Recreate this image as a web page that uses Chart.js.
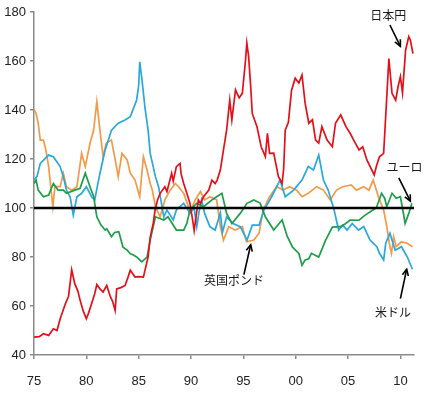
<!DOCTYPE html>
<html>
<head>
<meta charset="utf-8">
<script src="https://cdn.jsdelivr.net/npm/chart.js@4/dist/chart.umd.min.js"></script>
<style>
html,body{margin:0;padding:0;background:#fff;}
canvas{display:block;}
</style>
</head>
<body>
<canvas id="c" width="424" height="397"></canvas>
<script>
// ---- data (index, reference level = 100) ----
const tickYears  = [1975,1980,1985,1990,1995,2000,2005,2010];
const tickLabels = ['75','80','85','90','95','00','05','10'];
const yTicks = [40,60,80,100,120,140,160,180];

const seriesNames = ['日本円','ユーロ','米ドル','英国ポンド'];

const yenYears = [1975.0,1975.5,1975.9,1976.4,1976.85,1977.2,1977.5,1978.0,1978.3,1978.6,1978.9,1979.2,1979.4,1979.7,1980.0,1980.2,1980.5,1980.8,1981.0,1981.3,1981.6,1981.95,1982.3,1982.5,1982.75,1982.9,1983.3,1983.7,1984.0,1984.2,1984.65,1985.0,1985.45,1985.9,1986.1,1986.4,1986.57,1986.8,1987.05,1987.5,1987.7,1988.15,1988.3,1988.6,1988.95,1989.05,1989.3,1989.6,1989.9,1990.2,1990.3,1990.7,1990.9,1991.2,1991.7,1992.0,1992.3,1992.5,1992.8,1993.1,1993.4,1993.7,1993.9,1994.25,1994.6,1994.9,1995.2,1995.33,1995.5,1995.7,1995.85,1996.3,1996.7,1997.1,1997.3,1997.5,1997.9,1998.35,1998.7,1998.85,1999.0,1999.3,1999.6,1999.95,2000.3,2000.6,2000.9,2001.25,2001.6,2001.9,2002.2,2002.5,2003.0,2003.5,2003.8,2004.3,2004.8,2005.2,2005.5,2006.05,2006.4,2006.8,2007.1,2007.5,2007.7,2008.0,2008.4,2008.7,2008.9,2009.2,2009.55,2009.8,2010.0,2010.2,2010.5,2010.8,2010.95,2011.2];
const yenValues = [47.3,47.5,48.7,48.0,50.7,50.0,54.8,60.9,64.0,74.8,69.0,66.0,62.4,58.0,54.8,57.0,60.9,65.0,68.8,67.0,65.7,68.4,63.7,62.0,58.2,67.0,67.5,68.4,72.0,74.6,71.8,72.0,71.8,80.0,88.0,94.0,99.2,103.3,106.0,108.7,106.7,114.2,111.0,116.9,118.2,114.0,110.0,106.0,101.9,93.7,90.8,103.3,101.9,104.6,107.3,111.4,110.0,111.4,115.5,123.7,131.8,144.0,135.9,148.2,145.0,146.8,160.0,167.3,162.0,149.5,138.6,133.2,125.0,121.0,130.5,122.3,122.4,112.8,110.0,116.0,131.8,135.0,148.0,153.0,151.0,154.3,142.8,134.6,136.0,127.7,126.5,133.2,127.7,125.0,134.6,138.0,133.2,130.5,128.0,123.7,125.0,119.6,117.0,113.5,116.9,120.9,122.3,145.4,161.0,146.8,144.0,150.0,153.6,147.0,164.5,170.0,168.6,163.0];

const euroYears = [1975.0,1975.2,1975.4,1975.9,1976.4,1976.85,1977.3,1977.8,1978.1,1978.9,1979.4,1979.9,1980.35,1980.7,1981.0,1981.4,1981.8,1981.95,1982.4,1982.7,1983.1,1983.5,1983.9,1984.2,1984.5,1984.8,1985.1,1985.3,1985.8,1986.1,1986.6,1987.4,1987.8,1988.6,1989.3,1989.6,1989.9,1990.55,1991.2,1992.0,1992.45,1992.95,1993.4,1993.9,1994.7,1995.35,1996.0,1996.6,1997.1,1997.9,1998.4,1998.7,1999.2,1999.7,2000.3,2000.6,2000.9,2001.25,2001.5,2002.2,2002.85,2003.5,2004.25,2004.75,2005.2,2006.05,2006.6,2007.3,2007.7,2008.2,2008.5,2008.7,2009.2,2009.6,2010.0,2010.2,2010.45,2010.8,2011.1];
const euroValues = [110.0,111.4,107.3,104.6,105.3,110.0,107.3,107.3,106.0,107.3,108.0,114.2,108.7,104.6,96.4,93.0,91.0,91.5,88.3,90.0,90.3,84.0,82.8,81.3,80.8,80.0,78.8,78.0,80.0,86.9,96.4,95.1,96.4,91.0,91.0,93.7,99.2,101.9,100.5,103.3,104.6,106.0,97.8,93.7,97.8,101.9,103.3,102.0,96.4,91.0,93.6,95.1,88.3,84.0,81.5,76.6,78.8,79.3,81.5,80.0,86.8,92.2,92.4,93.6,95.1,95.0,97.0,99.0,100.0,106.0,104.0,100.5,106.0,104.0,104.6,100.0,93.7,97.8,101.9];

const usdYears = [1975.0,1975.3,1975.6,1976.4,1976.85,1977.5,1977.8,1978.1,1978.45,1978.75,1979.1,1979.55,1980.0,1980.5,1980.8,1981.3,1981.8,1982.4,1983.05,1983.7,1984.2,1984.8,1985.0,1985.1,1985.3,1985.6,1985.9,1986.1,1986.6,1986.9,1987.4,1987.7,1988.3,1988.6,1989.3,1989.9,1990.3,1990.55,1990.8,1991.0,1991.3,1991.8,1992.3,1992.6,1992.8,1993.0,1993.4,1994.0,1994.7,1995.35,1995.85,1996.5,1996.95,1997.7,1998.5,1999.0,1999.8,2000.6,2001.2,2001.7,2002.2,2002.65,2003.1,2003.65,2004.1,2004.5,2004.9,2005.4,2006.0,2006.5,2007.1,2007.75,2008.0,2008.4,2008.6,2009.0,2009.5,2010.1,2010.65,2011.15];
const usdValues = [111.4,113.0,118.2,121.6,120.9,116.9,112.8,107.3,104.6,97.1,104.6,106.0,108.7,104.6,103.3,114.2,123.7,131.8,134.6,135.9,137.3,144.0,150.0,159.7,152.9,141.0,131.8,122.3,112.8,108.7,96.4,99.2,95.1,99.2,101.9,97.8,100.0,92.4,99.2,103.3,97.8,92.4,91.0,95.1,98.0,90.0,96.4,93.7,92.4,86.9,93.0,93.0,99.0,104.6,111.4,104.6,107.3,111.4,116.9,115.5,121.6,111.4,107.3,99.5,91.0,93.0,91.0,93.7,91.0,92.4,86.9,84.2,81.5,78.8,85.6,89.7,82.8,84.2,80.1,75.0];

const gbpYears = [1975.0,1975.2,1975.4,1975.6,1975.9,1976.1,1976.4,1976.6,1976.8,1977.0,1977.5,1977.8,1978.1,1978.6,1979.1,1979.55,1979.9,1980.35,1980.7,1981.0,1981.3,1981.6,1981.9,1982.4,1982.7,1983.05,1983.4,1983.9,1984.2,1984.65,1985.1,1985.45,1985.8,1986.1,1986.3,1986.6,1987.05,1987.5,1988.0,1988.5,1988.8,1989.3,1989.75,1990.0,1990.4,1990.9,1991.3,1991.8,1992.45,1992.8,1993.1,1993.6,1994.2,1994.9,1995.3,1996.0,1996.5,1996.9,1997.5,1998.2,1998.8,1999.4,2000.1,2000.6,2001.2,2002.0,2002.65,2003.3,2003.9,2004.5,2005.3,2005.8,2006.5,2007.0,2007.4,2007.9,2008.4,2008.7,2009.0,2009.15,2009.35,2009.6,2010.1,2010.65,2011.15];
const gbpValues = [140.0,138.6,134.6,127.7,127.7,124.4,116.9,108.7,100.5,108.7,108.7,114.2,108.7,107.3,108.7,122.3,116.9,126.4,131.8,143.4,131.8,120.9,126.4,127.7,121.0,112.8,122.3,119.6,114.2,111.4,104.6,120.9,115.5,110.0,107.3,100.5,96.4,103.3,107.3,110.0,108.7,106.0,100.5,99.2,103.3,106.7,103.3,104.6,103.3,92.4,86.9,92.4,91.0,92.4,86.2,86.9,89.7,99.2,104.6,108.7,107.3,108.7,107.3,104.6,106.0,108.7,107.3,103.3,107.3,108.7,109.4,107.3,108.7,107.3,111.4,104.6,99.2,92.4,84.2,81.5,88.3,84.2,86.2,85.6,84.2];

const refYears = [1975, 2011.3];
const refValues = [100, 100];

// annotation labels: text, label anchor (year,value), arrow from -> to (year,value)
const notes = [
  {text:'日本円',    at:[2008.85,178.8], from:[2009.0,174.7], to:[2010.0,166.0]},
  {text:'ユーロ',    at:[2010.4,116.5],  from:[2009.85,112.3], to:[2010.95,102.8]},
  {text:'英国ポンド', at:[1994.1,70.6],   from:[1995.05,72.8], to:[1995.7,85.0]},
  {text:'米ドル',    at:[2009.3,57.5],   from:[2010.0,63.0],  to:[2010.6,75.0]}
];

function pts(xs, ys){ return xs.map((x,i)=>({x:x, y:ys[i]})); }

const notePlugin = {
  id:'notes',
  afterDatasetsDraw(chart){
    const ctx = chart.ctx, xs = chart.scales.x, ys = chart.scales.y;
    ctx.save();
    ctx.font = '12px "Noto Sans CJK JP", sans-serif';
    ctx.fillStyle = '#1a1a1a';
    ctx.textAlign = 'center';
    ctx.textBaseline = 'middle';
    notes.forEach(n=>{
      ctx.fillText(n.text, xs.getPixelForValue(n.at[0]), ys.getPixelForValue(n.at[1]));
      const x1 = xs.getPixelForValue(n.from[0]), y1 = ys.getPixelForValue(n.from[1]);
      const x2 = xs.getPixelForValue(n.to[0]),   y2 = ys.getPixelForValue(n.to[1]);
      ctx.strokeStyle = '#000';
      ctx.lineWidth = 1.6;
      ctx.beginPath(); ctx.moveTo(x1,y1); ctx.lineTo(x2,y2); ctx.stroke();
      const a = Math.atan2(y2-y1, x2-x1), L = 7, s = 0.45;
      ctx.beginPath();
      ctx.moveTo(x2 - L*Math.cos(a-s), y2 - L*Math.sin(a-s));
      ctx.lineTo(x2, y2);
      ctx.lineTo(x2 - L*Math.cos(a+s), y2 - L*Math.sin(a+s));
      ctx.stroke();
    });
    ctx.restore();
  }
};

const lw = 1.7;
new Chart(document.getElementById('c'), {
  type:'line',
  data:{
    datasets:[
      {label:'100', data:pts(refYears, refValues), borderColor:'#000', borderWidth:2.4},
      {label:seriesNames[0], data:pts(yenYears, yenValues),  borderColor:'#e3101a', borderWidth:lw},
      {label:seriesNames[1], data:pts(euroYears, euroValues), borderColor:'#1e9e4a', borderWidth:lw},
      {label:seriesNames[2], data:pts(usdYears, usdValues),  borderColor:'#2aa8dc', borderWidth:lw},
      {label:seriesNames[3], data:pts(gbpYears, gbpValues),  borderColor:'#f39a48', borderWidth:lw}
    ]
  },
  options:{
    responsive:false,
    animation:false,
    devicePixelRatio:1,
    layout:{padding:{top:12, right:10, left:0, bottom:0}},
    elements:{point:{radius:0}, line:{tension:0, fill:false}},
    plugins:{legend:{display:false}, tooltip:{enabled:false}},
    scales:{
      x:{
        type:'linear', min:1975, max:2011.3,
        afterBuildTicks(s){ s.ticks = tickYears.map(v=>({value:v})); },
        afterFit(s){ s.height = 42; },
        ticks:{
          autoSkip:false, maxRotation:0, padding:15,
          color:'#222', font:{family:'"Liberation Sans", Arial, sans-serif', size:13},
          callback(v){ const i = tickYears.indexOf(v); return i>=0 ? tickLabels[i] : ''; }
        },
        grid:{drawOnChartArea:false, drawTicks:true, tickLength:4, color:'#8a8a8a', lineWidth:1.5},
        border:{color:'#8a8a8a', width:1.5}
      },
      y:{
        min:40, max:180,
        afterBuildTicks(s){ s.ticks = yTicks.map(v=>({value:v})); },
        afterFit(s){ s.width = 34; },
        ticks:{
          padding:4, color:'#222', font:{family:'"Liberation Sans", Arial, sans-serif', size:13}
        },
        grid:{drawOnChartArea:false, drawTicks:true, tickLength:4, color:'#8a8a8a', lineWidth:1.5},
        border:{color:'#8a8a8a', width:1.5}
      }
    }
  },
  plugins:[notePlugin]
});
</script>
</body>
</html>
